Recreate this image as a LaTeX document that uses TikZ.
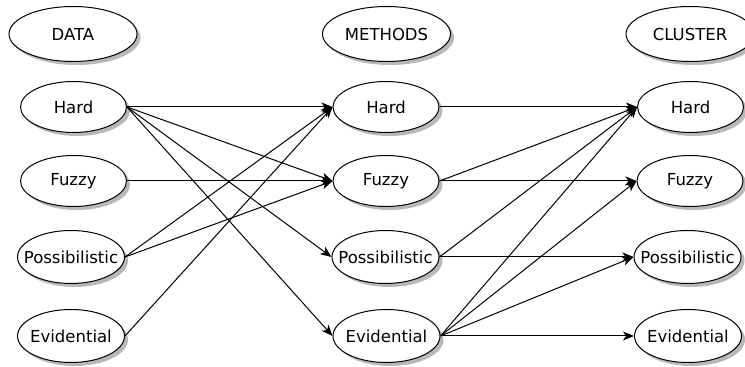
\documentclass[tikz,border=0pt]{standalone}
\usepackage{fontspec}
\setmainfont{DejaVu Sans}
\usetikzlibrary{shapes.geometric,shadows,arrows.meta}
\begin{document}
\begin{tikzpicture}[x=1pt,y=1pt,
  ell/.style={ellipse, draw, line width=1pt, fill=white, inner sep=0pt,
    minimum width=106pt, minimum height=51pt,
    font=\fontsize{16.5}{20}\selectfont,
    drop shadow={shadow xshift=3.5pt, shadow yshift=-3.5pt, fill=black!35, opacity=0.8}},
  wide/.style={minimum width=107pt, minimum height=53pt},
  head/.style={minimum width=128pt, minimum height=55pt},
  conn/.style={line width=1pt, -{Stealth[length=11pt,width=9pt,inset=3pt]}}]
\useasboundingbox (0,0) rectangle (745,367);
\def\Y#1{367-#1}
% left column
\node[ell,head] (data) at (73,{\Y{34}}) {\makebox[0pt]{DATA}};
\node[ell] (dh) at (73.5,{\Y{107}}) {\makebox[0pt]{Hard}};
\node[ell] (df) at (73.5,{\Y{181}}) {\makebox[0pt]{Fuzzy}};
\node[ell,wide] (dp) at (71,{\Y{257}}) {\makebox[0pt]{Possibilistic}};
\node[ell,wide] (de) at (71,{\Y{336}}) {\makebox[0pt]{Evidential}};
% middle column
\node[ell,head] (meth) at (386.5,{\Y{34}}) {\makebox[0pt]{METHODS}};
\node[ell] (mh) at (386,{\Y{107}}) {\makebox[0pt]{Hard}};
\node[ell] (mf) at (386,{\Y{181}}) {\makebox[0pt]{Fuzzy}};
\node[ell,wide] (mp) at (385.5,{\Y{257}}) {\makebox[0pt]{Possibilistic}};
\node[ell,wide] (me) at (386.5,{\Y{336}}) {\makebox[0pt]{Evidential}};
% right column
\node[ell,head] (clus) at (690,{\Y{34}}) {\makebox[0pt]{CLUSTER}};
\node[ell] (ch) at (690.5,{\Y{107}}) {\makebox[0pt]{Hard}};
\node[ell] (cf) at (690,{\Y{181}}) {\makebox[0pt]{Fuzzy}};
\node[ell,wide] (cp) at (687.5,{\Y{257}}) {\makebox[0pt]{Possibilistic}};
\node[ell,wide] (ce) at (688,{\Y{336}}) {\makebox[0pt]{Evidential}};
% data -> methods
\draw[conn] (dh.east) -- (mh.west);
\draw[conn] (dh.east) -- (mf.west);
\draw[conn] (dh.east) -- (mp.west);
\draw[conn] (dh.east) -- (me.west);
\draw[conn] (df.east) -- (mf.west);
\draw[conn] (dp.east) -- (mh.west);
\draw[conn] (dp.east) -- (mf.west);
\draw[conn] (de.east) -- (mh.west);
% methods -> cluster
\draw[conn] (mh.east) -- (ch.west);
\draw[conn] (mf.east) -- (ch.west);
\draw[conn] (mf.east) -- (cf.west);
\draw[conn] (mp.east) -- (ch.west);
\draw[conn] (mp.east) -- (cp.west);
\draw[conn] (me.east) -- (ch.west);
\draw[conn] (me.east) -- (cf.west);
\draw[conn] (me.east) -- (cp.west);
\draw[conn] (me.east) -- (ce.west);
\end{tikzpicture}
\end{document}
